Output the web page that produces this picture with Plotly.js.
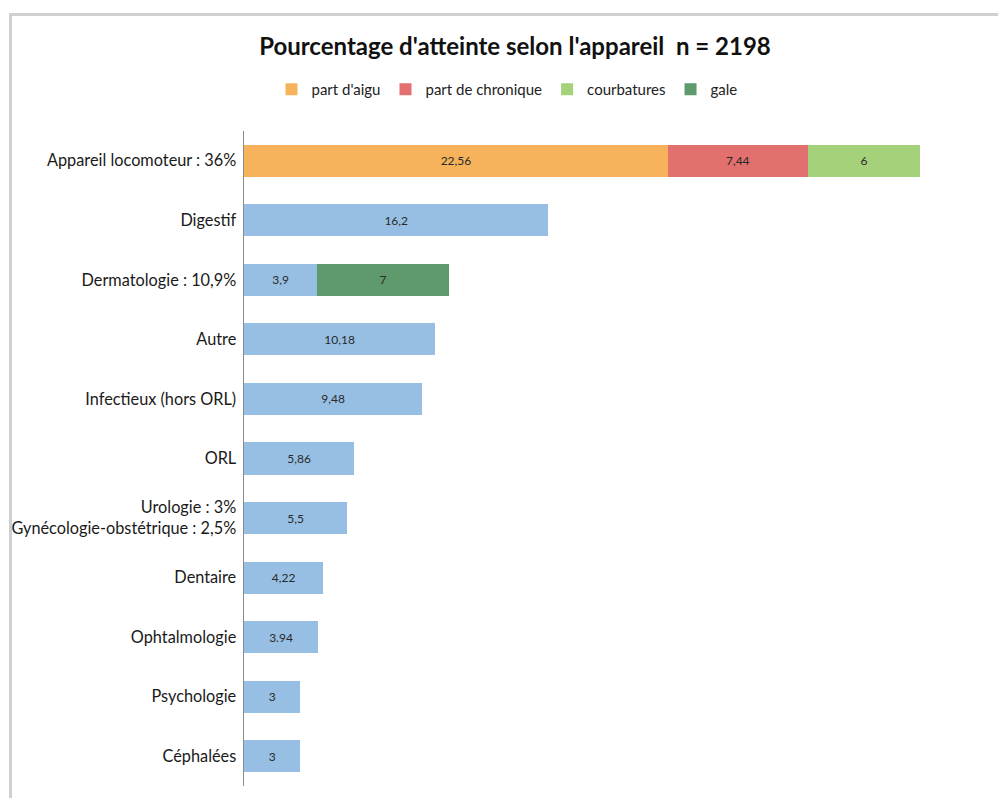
<!DOCTYPE html>
<html><head><meta charset="utf-8">
<script src="https://cdn.plot.ly/plotly-3.0.1.min.js"></script>
<style>
html,body{margin:0;padding:0;background:#fff;}
#frame{position:absolute;left:9px;top:13px;width:989px;height:785px;border-top:3px solid #d0d0d0;border-left:3px solid #d0d0d0;}
#chart{position:absolute;left:0;top:0;width:998px;height:798px;}
</style></head>
<body>
<div id="frame"></div>
<div id="chart"></div>
<script>
const categories = ["Appareil locomoteur : 36%","Digestif","Dermatologie : 10,9%","Autre","Infectieux (hors ORL)","ORL","Urologie : 3%<br>Gynécologie-obstétrique : 2,5%","Dentaire","Ophtalmologie","Psychologie","Céphalées"];
const base     = [0, 16.2, 3.9, 10.18, 9.48, 5.86, 5.5, 4.22, 3.94, 3, 3];
const baseText = ["", "16,2", "3,9", "10,18", "9,48", "5,86", "5,5", "4,22", "3.94", "3", "3"];
const aigu      = [22.56, 0,0,0,0,0,0,0,0,0,0];
const chronique = [7.44, 0,0,0,0,0,0,0,0,0,0];
const courbatures = [6, 0,0,0,0,0,0,0,0,0,0];
const gale      = [0, 0, 7, 0,0,0,0,0,0,0,0];

function lbl(arr){ return arr.map(v => v ? String(v).replace('.', ',') : ''); }

const common = {type:'bar', orientation:'h', y:categories, width:0.54,
  textposition:'inside', insidetextanchor:'middle', textangle:0,
  textfont:{family:'Lato, sans-serif', size:12, color:'#2a2a2a'}, hoverinfo:'x+y'};

const traces = [
  Object.assign({}, common, {name:'base', x:base, text:baseText, showlegend:false,
    marker:{color:'#96bfe3', line:{width:0}}}),
  Object.assign({}, common, {name:"part d'aigu", x:aigu, text:lbl(aigu),
    marker:{color:'#f6b35c', line:{width:0}}}),
  Object.assign({}, common, {name:'part de chronique', x:chronique, text:lbl(chronique),
    marker:{color:'#e2706f', line:{width:0}}}),
  Object.assign({}, common, {name:'courbatures', x:courbatures, text:lbl(courbatures),
    marker:{color:'#a6d17b', line:{width:0}}}),
  Object.assign({}, common, {name:'gale', x:gale, text:lbl(gale),
    marker:{color:'#5e9a6b', line:{width:0}}})
];

const layout = {
  width:998, height:798,
  paper_bgcolor:'rgba(0,0,0,0)', plot_bgcolor:'rgba(0,0,0,0)',
  barmode:'stack',
  margin:{l:244, r:40, t:131, b:12},
  font:{family:'Lato, sans-serif', color:'#222'},
  title:{text:"Pourcentage d'atteinte selon l'appareil  n = 2198", x:0.516, xanchor:'center', y:0.941, yanchor:'middle',
    font:{family:'Lato, sans-serif', size:24, color:'#111', weight:'bold'}},
  showlegend:true,
  legend:{orientation:'h', x:0.508, xref:'container', xanchor:'center', y:0.888, yanchor:'middle', yref:'container',
    font:{family:'Lato, sans-serif', size:15, color:'#222'}, itemwidth:30, traceorder:'normal',
    itemsizing:'constant', tracegroupgap:0},
  xaxis:{range:[0,38], showgrid:false, zeroline:false, showticklabels:false, showline:false, ticks:''},
  yaxis:{autorange:'reversed', showgrid:false, zeroline:false, showline:true, linecolor:'#8a8a8a', linewidth:1.5,
    ticks:'', ticklen:0, ticklabelstandoff:3, tickfont:{family:'Lato, sans-serif', size:16.3, color:'#1a1a1a'}, automargin:false},
  uniformtext:{mode:'show', minsize:8}
};

Plotly.newPlot('chart', traces, layout, {displayModeBar:false, staticPlot:true});
</script>
</body></html>
